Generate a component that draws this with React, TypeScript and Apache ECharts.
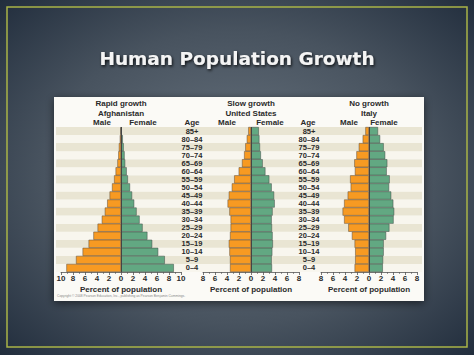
import React, { useEffect, useRef } from "react";
import * as echarts from "echarts";

const ages = ["0–4", "5–9", "10–14", "15–19", "20–24", "25–29", "30–34", "35–39", "40–44", "45–49", "50–54", "55–59", "60–64", "65–69", "70–74", "75–79", "80–84", "85+"];

const afghanMale = [9.1, 7.5, 6.4, 5.4, 4.6, 3.9, 3.2, 2.7, 2.3, 1.9, 1.5, 1.15, 0.9, 0.6, 0.45, 0.35, 0.2, 0.1];
const afghanFemale = [8.8, 7.3, 6.2, 5.2, 4.4, 3.6, 3.1, 2.6, 2.2, 1.85, 1.5, 1.15, 0.95, 0.7, 0.6, 0.45, 0.3, 0.1];

const usMale = [3.5, 3.5, 3.6, 3.7, 3.5, 3.4, 3.4, 3.6, 3.9, 3.7, 3.2, 2.8, 2.05, 1.5, 1.15, 0.95, 0.7, 0.45];
const usFemale = [3.5, 3.45, 3.55, 3.65, 3.6, 3.5, 3.45, 3.6, 3.95, 3.85, 3.45, 3.05, 2.4, 1.95, 1.65, 1.5, 1.4, 1.3];

const italyMale = [2.4, 2.3, 2.3, 2.4, 2.85, 3.45, 4.15, 4.4, 4.15, 3.55, 3.05, 3.15, 2.35, 2.45, 2.1, 1.7, 1.05, 0.6];
const italyFemale = [2.3, 2.35, 2.45, 2.45, 2.85, 3.4, 4.1, 4.2, 4.05, 3.7, 3.35, 3.45, 2.95, 3.05, 2.7, 2.45, 1.85, 1.5];

const pyramidTitles = [
  ["Rapid growth", "Afghanistan"],
  ["Slow growth", "United States"],
  ["No growth", "Italy"],
];
const axisMax = [10, 8, 8];

const ORANGE = "#f79a22";
const GREEN = "#62a882";
const FONT = "Liberation Sans, Arial, sans-serif";
const TXT = "#2a2a2a";

export default function App() {
  const ref = useRef<HTMLDivElement>(null);
  useEffect(() => {
    if (!ref.current) return;
    const chart = echarts.init(ref.current, null, { renderer: "svg" });
    const grids = [
      { left: 61, top: 127, width: 120, height: 145 },
      { left: 203, top: 127, width: 96, height: 145 },
      { left: 321, top: 127, width: 96, height: 145 },
      { left: 56, top: 127, width: 366, height: 145 },
    ];
    const males = [afghanMale, usMale, italyMale];
    const females = [afghanFemale, usFemale, italyFemale];
    const xAxes: any[] = [0, 1, 2].map((i) => ({
      type: "value",
      gridIndex: i,
      min: -axisMax[i],
      max: axisMax[i],
      interval: 2,
      axisLine: { show: true, onZero: false, lineStyle: { color: "#555", width: 0.8 } },
      axisTick: { show: true, length: 3, lineStyle: { color: "#555", width: 0.8 } },
      minorTick: { show: true, splitNumber: 2, length: 2, lineStyle: { color: "#555", width: 0.6 } },
      splitLine: { show: false },
      axisLabel: {
        formatter: (v: number) => String(Math.abs(v)),
        fontFamily: FONT,
        fontWeight: "bold",
        fontSize: 8,
        color: TXT,
        margin: 2,
      },
      name: "Percent of population",
      nameLocation: "middle",
      nameGap: 13,
      nameTextStyle: { fontFamily: FONT, fontWeight: "bold", fontSize: 8, color: TXT },
    }));
    xAxes.push({ type: "value", gridIndex: 3, min: 0, max: 1, show: false });
    const yAxes: any[] = [0, 1, 2].map((i) => ({
      type: "category",
      gridIndex: i,
      data: ages,
      axisLine: { show: false },
      axisTick: { show: false },
      splitLine: { show: false },
      axisLabel: {
        show: i > 0,
        align: "center",
        margin: i === 1 ? 11 : 12,
        fontFamily: FONT,
        fontWeight: "bold",
        fontSize: 7.5,
        color: TXT,
        interval: 0,
      },
    }));
    yAxes.push({
      type: "category",
      gridIndex: 3,
      data: ages,
      axisLine: { show: false },
      axisTick: { show: false },
      axisLabel: { show: false, interval: 0 },
      splitLine: { show: false },
      splitArea: { show: true, interval: 0, areaStyle: { color: ["#f8f6ee", "#e9e5d3"] } },
    });
    const series: any[] = [];
    [0, 1, 2].forEach((i) => {
      series.push({
        type: "bar",
        xAxisIndex: i,
        yAxisIndex: i,
        stack: "p" + i,
        barCategoryGap: "0%",
        data: males[i].map((v) => -v),
        itemStyle: { color: ORANGE, borderColor: "#5b4a3a", borderWidth: 0.5 },
        markLine: {
          silent: true,
          symbol: "none",
          label: { show: false },
          lineStyle: { color: "#444", width: 1, type: "solid" },
          data: [{ xAxis: 0 }],
        },
      });
      series.push({
        type: "bar",
        xAxisIndex: i,
        yAxisIndex: i,
        stack: "p" + i,
        barCategoryGap: "0%",
        data: females[i],
        itemStyle: { color: GREEN, borderColor: "#3e4a44", borderWidth: 0.5 },
      });
    });
    const centers = [121, 251, 369];
    const maleX = [102, 227, 349];
    const femaleX = [143, 270, 384];
    const headerText = (text: string, x: number, y: number) => ({
      type: "text",
      x,
      y,
      z: 20,
      style: {
        text,
        fill: TXT,
        font: `bold 8px ${FONT}`,
        textAlign: "center",
        textVerticalAlign: "middle",
      },
    });
    const graphics: any[] = [
      {
        type: "rect",
        z: -2,
        shape: { x: 7, y: 7, width: 460, height: 340 },
        style: { fill: "none", stroke: "#a9b447", lineWidth: 1.5 },
      },
      {
        type: "rect",
        z: -1,
        shape: { x: 54, y: 97, width: 370, height: 204 },
        style: { fill: "#fbfaf6", shadowBlur: 8, shadowColor: "rgba(0,0,0,0.55)", shadowOffsetY: 2 },
      },
      {
        type: "text",
        x: 237,
        y: 58,
        z: 20,
        style: {
          text: "Human Population Growth",
          fill: "#f4f4f4",
          font: "bold 18.5px DejaVu Sans, sans-serif",
          textAlign: "center",
          textVerticalAlign: "middle",
          textShadowColor: "rgba(0,0,0,0.85)",
          textShadowBlur: 3,
          textShadowOffsetX: 1,
          textShadowOffsetY: 1.5,
        },
      },
      {
        type: "text",
        x: 57,
        y: 296,
        z: 20,
        style: {
          text: "Copyright © 2008 Pearson Education, Inc., publishing as Pearson Benjamin Cummings.",
          fill: "#888",
          font: `3.3px ${FONT}`,
          textAlign: "left",
          textVerticalAlign: "middle",
        },
      },
      headerText("Age", 192, 122.5),
      headerText("Age", 308, 122.5),
    ];
    [0, 1, 2].forEach((i) => {
      graphics.push(headerText(pyramidTitles[i][0], centers[i], 103.5));
      graphics.push(headerText(pyramidTitles[i][1], centers[i], 113));
      graphics.push(headerText("Male", maleX[i], 122.5));
      graphics.push(headerText("Female", femaleX[i], 122.5));
    });
    chart.setOption({
      animation: false,
      backgroundColor: new echarts.graphic.RadialGradient(0.5, 0.5, 0.75, [
        { offset: 0, color: "#6a7580" },
        { offset: 0.55, color: "#48535f" },
        { offset: 1, color: "#1c2838" },
      ]),
      grid: grids,
      xAxis: xAxes,
      yAxis: yAxes,
      series,
      graphic: graphics,
    });
    return () => chart.dispose();
  }, []);
  return (
    <div
      ref={ref}
      style={{ position: "absolute", left: 0, top: 0, width: 474, height: 355 }}
    />
  );
}
